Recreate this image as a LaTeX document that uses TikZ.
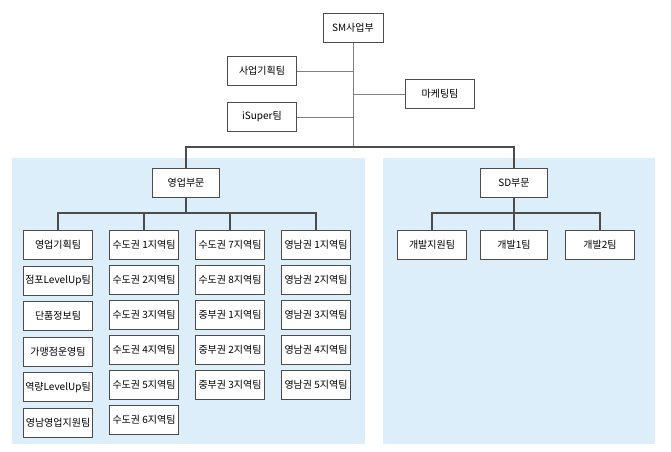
\documentclass[tikz,border=0pt]{standalone}
\usepackage{fontspec}
\setmainfont{Noto Sans CJK KR}
\usetikzlibrary{positioning}

\definecolor{panelblue}{RGB}{221,238,251}
\definecolor{linegray}{RGB}{128,128,128}

\begin{document}
\begin{tikzpicture}[x=0.75pt,y=-0.75pt,
    team/.style={draw=black!70,fill=white,minimum width=69*0.75pt,
      minimum height=29*0.75pt,inner sep=1pt,font=\fontsize{7.5}{9}\selectfont},
    link/.style={draw=black!70,thick},
    toplink/.style={draw=linegray,semithick}]
  \useasboundingbox (0,0) rectangle (671,452);
  \fill[panelblue] (12,158) rectangle (365,444);
  \fill[panelblue] (383,158) rectangle (655,444);

  \node[team, minimum width=60*0.75pt] (sm) at (353,28) {SM사업부};
  \node[team] (plan) at (262,71) {사업기획팀};
  \node[team] (isuper) at (262,117) {iSuper팀};
  \node[team] (mkt) at (440,94) {마케팅팀};
  \node[team, minimum width=67*0.75pt] (sales) at (186,183) {영업부문};
  \node[team, minimum width=67*0.75pt] (sd) at (514,183) {SD부문};

  \coordinate (hub) at (353,147);
  \path[toplink] (sm) -- (hub)
    (plan.east) -- (plan.east -| hub)
    (isuper.east) -- (isuper.east -| hub)
    (mkt.west) -- (mkt.west -| hub);
  \path[link] (sales) |- (hub) -| (sd);

  % sales columns
  \node[team] (c1r1) at (58,245) {영업기획팀};
  \node[team, below=6*0.75pt of c1r1] (c1r2) {점포LevelUp팀};
  \node[team, below=6*0.75pt of c1r2] (c1r3) {단품정보팀};
  \node[team, below=6*0.75pt of c1r3] (c1r4) {가맹점운영팀};
  \node[team, below=6*0.75pt of c1r4] (c1r5) {역량LevelUp팀};
  \node[team, below=6*0.75pt of c1r5] (c1r6) {영남영업지원팀};
  \foreach \i [count=\r] in {1,2,3,4,5,6}
    \node[team] (c2r\r) at (144,245+35*\r-35) {수도권 \i{}지역팀};
  \foreach \area [count=\r] in {수도권 7,수도권 8,중부권 1,중부권 2,중부권 3}
    \node[team] (c3r\r) at (230,245+35*\r-35) {\area{}지역팀};
  \foreach \i [count=\r] in {1,2,3,4,5}
    \node[team] (c4r\r) at (316,245+35*\r-35) {영남권 \i{}지역팀};

  \coordinate (salesbus) at (186,213);
  \path[link] (sales) -- (salesbus);
  \foreach \c in {1,2,3,4}
    \path[link] (salesbus) -| (c\c r1);

  % SD teams
  \node[team] (dev0) at (432,245) {개발지원팀};
  \node[team, minimum width=67*0.75pt] (dev1) at (514,245) {개발1팀};
  \node[team] (dev2) at (600,245) {개발2팀};
  \coordinate (sdbus) at (514,213);
  \path[link] (sd) -- (dev1);
  \path[link] (sdbus) -| (dev0) (sdbus) -| (dev2);
\end{tikzpicture}
\end{document}
